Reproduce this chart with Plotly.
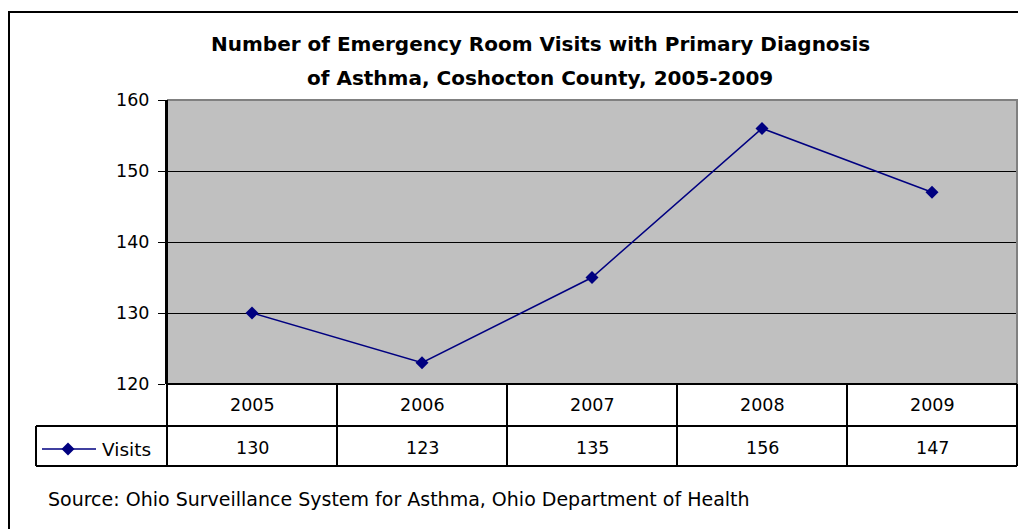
import plotly.graph_objects as go

years = ["2005", "2006", "2007", "2008", "2009"]
visits = [130, 123, 135, 156, 147]
series_name = "Visits"
y_ticks = [120, 130, 140, 150, 160]
title_lines = ["Number of Emergency Room Visits with Primary Diagnosis",
               "of Asthma, Coshocton County, 2005-2009"]
source_text = "Source: Ohio Surveillance System for Asthma, Ohio Department of Health"

W, H = 1026, 529
OFF = 8  # page body margin offset

def px(x):
    return (x - OFF) / W

def py(y):
    return 1 - (y - OFF) / H

FONT = "DejaVu Sans, Verdana, sans-serif"
NAVY = "#000080"

plot_l, plot_r, plot_t, plot_b = 167, 1017, 100, 384
row1_b, row2_b, tbl_l = 426, 466, 36
cols = [167, 337, 507, 677, 847, 1017]

fig = go.Figure()
fig.add_trace(go.Scatter(
    x=list(range(len(years))), y=visits, mode="lines+markers", name=series_name,
    line=dict(color=NAVY, width=1.5),
    marker=dict(symbol="diamond", size=10, color=NAVY),
    showlegend=False, cliponaxis=False,
))

shapes = []
# outer border
shapes.append(dict(type="rect", xref="paper", yref="paper", x0=px(9), x1=px(1040), y0=py(12), y1=py(545),
                   line=dict(color="black", width=2)))
# plot border (gray top/right)
shapes.append(dict(type="line", xref="paper", yref="paper", x0=px(plot_l), x1=px(plot_r + 1), y0=py(plot_t), y1=py(plot_t),
                   line=dict(color="#808080", width=2), layer="above"))
shapes.append(dict(type="line", xref="paper", yref="paper", x0=px(plot_r), x1=px(plot_r), y0=py(plot_t), y1=py(plot_b),
                   line=dict(color="#808080", width=2), layer="above"))

def hline(y, x0, x1):
    shapes.append(dict(type="line", xref="paper", yref="paper", x0=px(x0), x1=px(x1), y0=py(y), y1=py(y),
                       line=dict(color="black", width=2), layer="above"))

def vline(x, y0, y1):
    shapes.append(dict(type="line", xref="paper", yref="paper", x0=px(x), x1=px(x), y0=py(y0), y1=py(y1),
                       line=dict(color="black", width=2), layer="above"))

hline(plot_b, plot_l, plot_r)
hline(row1_b, tbl_l, plot_r)
hline(row2_b, tbl_l, plot_r)
vline(tbl_l, row1_b, row2_b)
vline(plot_l, plot_t, row2_b)
for c in cols[1:]:
    vline(c, plot_b, row2_b)

# legend key in table
leg_y = 449
shapes.append(dict(type="line", xref="paper", yref="paper", x0=px(42), x1=px(96), y0=py(leg_y), y1=py(leg_y),
                   line=dict(color=NAVY, width=1.5)))
d = 6.5
cx = 68
shapes.append(dict(type="path", xref="paper", yref="paper",
                   path=f"M{px(cx-d)},{py(leg_y)} L{px(cx)},{py(leg_y-d)} L{px(cx+d)},{py(leg_y)} L{px(cx)},{py(leg_y+d)} Z",
                   fillcolor=NAVY, line=dict(color=NAVY, width=0)))

annotations = []
for i, (yr, v) in enumerate(zip(years, visits)):
    annotations.append(dict(x=i, y=py(405), xref="x", yref="paper", text=yr, showarrow=False,
                            font=dict(family=FONT, size=17.5, color="black"), xanchor="center", yanchor="middle"))
    annotations.append(dict(x=i, y=py(448), xref="x", yref="paper", text=str(v), showarrow=False,
                            font=dict(family=FONT, size=17.5, color="black"), xanchor="center", yanchor="middle"))
annotations.append(dict(x=px(100), y=py(449), xref="paper", yref="paper", text=series_name, showarrow=False,
                        font=dict(family=FONT, size=18.5, color="black"), xanchor="left", yanchor="middle"))
annotations.append(dict(x=px(46), y=py(499), xref="paper", yref="paper", text=source_text, showarrow=False,
                        font=dict(family=FONT, size=19, color="black"), xanchor="left", yanchor="middle"))
for ty, line in zip([44.5, 77.5], title_lines):
    annotations.append(dict(x=px(540), y=py(ty), xref="paper", yref="paper", text="<b>" + line + "</b>",
                            showarrow=False, font=dict(family=FONT, size=20, color="black"),
                            xanchor="center", yanchor="middle"))

fig.update_layout(
    width=W, height=H, margin=dict(l=0, r=0, t=0, b=0, pad=0, autoexpand=False),
    paper_bgcolor="white", plot_bgcolor="#C0C0C0",
    shapes=shapes, annotations=annotations,
    xaxis=dict(domain=[px(plot_l), px(plot_r)], range=[-0.5, len(years) - 0.5], showticklabels=False,
               showgrid=False, zeroline=False, ticks="", showline=False, fixedrange=True, automargin=False),
    yaxis=dict(domain=[py(plot_b), py(plot_t)], range=[y_ticks[0], y_ticks[-1]], tickvals=y_ticks,
               showgrid=True, gridcolor="black", gridwidth=1, zeroline=False,
               ticks="outside", ticklen=7, tickcolor="black", tickwidth=1,
               showline=True, linecolor="black", linewidth=2, ticklabelstandoff=5, automargin=False,
               tickfont=dict(family=FONT, size=17.5, color="black"), fixedrange=True),
    showlegend=False,
)

fig.write_html("out.html")
